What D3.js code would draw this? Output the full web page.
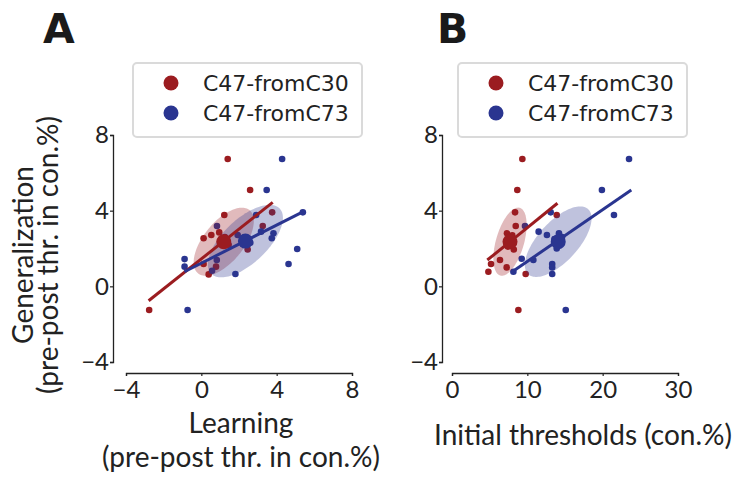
<!DOCTYPE html>
<html>
<head>
<meta charset="utf-8">
<script src="https://cdn.jsdelivr.net/npm/d3@7"></script>
<style>
    body { margin: 0; background: #fff; }
    svg { display: block; }
</style>
</head>
<body>
<div id="chart"></div>
<script>
// group names and colours
var groups = ['C47-fromC30', 'C47-fromC73'];
var colors = ['#9b1c20', '#2a3590'];

// panel A: learning vs generalization
var learnRedX  = [1.40, 2.59, 3.76, 1.22, 3.26, 0.53, 0.12, 1.25, 2.46, 0.12, 0.78, 0.39, -2.77, 1.45, 0.95];
var learnRedY  = [6.73, 5.09, 3.91, 3.77, 3.19, 2.71, 2.54, 2.60, 1.95, 1.18, 1.04, 0.63, -1.25, 2.20, 2.85];
var learnBlueX = [4.29, 3.47, 5.39, 2.91, 3.17, 3.83, 3.74, 1.93, 5.09, 4.63, 1.81, -0.89, -0.89, 0.57, -0.73, 0.83, 0.82, 2.60];
var learnBlueY = [6.73, 5.09, 3.91, 3.77, 2.89, 2.80, 2.54, 2.71, 1.97, 1.18, 0.65, 1.44, 1.04, 0.82, -1.25, 3.19, 1.39, 2.30];
var learnCentX = [1.19, 2.34];
var learnCentY = [2.36, 2.39];
var learnFitX  = [[-2.80, 3.79], [-0.90, 5.39]];
var learnFitY  = [[-0.76, 4.44], [0.77, 3.94]];
var learnEllMajor = [[1.37, 1.67], [1.82, 1.72]];
var learnEllMinor = [[0.82, -0.67], [0.81, -0.84]];

// panel B: initial thresholds vs generalization
var initRedX  = [9.34, 8.67, 8.37, 13.9, 8.46, 7.30, 7.60, 8.00, 7.90, 7.40, 8.20, 6.37, 5.18, 4.83, 7.26, 9.78, 8.81];
var initRedY  = [6.73, 5.09, 3.91, 3.77, 3.19, 2.80, 2.50, 2.70, 2.20, 2.10, 1.95, 1.39, 1.18, 0.77, 1.00, 0.65, -1.25];
var initBlueX = [23.5, 19.9, 21.5, 13.1, 11.5, 12.6, 13.6, 14.3, 14.6, 13.9, 14.2, 10.8, 9.25, 13.3, 13.3, 13.3, 8.15, 15.1, 9.69];
var initBlueY = [6.73, 5.09, 3.77, 3.91, 2.89, 2.71, 2.50, 2.20, 2.60, 2.00, 2.80, 1.39, 1.46, 1.18, 1.00, 0.65, 0.77, -1.25, 3.19];
var initCentX = [7.70, 14.1];
var initCentY = [2.36, 2.36];
var initFitX  = [[4.69, 14.0], [8.0, 23.8]];
var initFitY  = [[1.39, 4.39], [0.77, 5.09]];
var initEllMajor = [[1.29, 1.79], [3.98, 1.72]];
var initEllMinor = [[1.79, -0.20], [1.94, -0.72]];

// tick labels
var yTicks = [-4, 0, 4, 8];
var learnTicks = [-4, 0, 4, 8];
var initTicks = [0, 10, 20, 30];

var svg = d3.select('#chart').append('svg')
            .attr('width', 736)
            .attr('height', 479);

var tickFont = 'Lato, "DejaVu Sans", sans-serif';

function drawPanel(p) {
    var xScale = d3.scaleLinear().domain(p.xDomain).range(p.xRange);
    var yScale = d3.scaleLinear().domain([-4, 8]).range([362, 135]);

    function customAxis(g) {
        g.select('.domain').style('stroke', '#222').style('stroke-width', 1.3);
        g.selectAll('line').style('stroke', '#222').style('stroke-width', 1.2);
        g.selectAll('text').style('fill', '#222')
            .style('font-family', tickFont)
            .style('font-size', '24px');
    }
    var yAxis = d3.axisLeft(yScale).tickValues(yTicks)
                    .tickSize(3).tickPadding(1)
                    .tickFormat(function(d) { return d < 0 ? '\u2212' + Math.abs(d) : d; });
    svg.append('g').attr('transform', 'translate(' + p.yAxisX + ',0)')
        .call(yAxis).call(customAxis);
    var xAxis = d3.axisBottom(xScale).tickValues(p.xTicks)
                    .tickSize(3).tickPadding(5)
                    .tickFormat(function(d) { return d < 0 ? '\u2212' + Math.abs(d) : d; });
    svg.append('g').attr('transform', 'translate(0,373)')
        .call(xAxis).call(customAxis);

    // scatter points
    p.xs.forEach(function(xs, i) {
        svg.append('g').selectAll('circle')
            .data(d3.zip(xs, p.ys[i]))
            .enter()
            .append('circle')
            .attr('cx', function(d) { return xScale(d[0]); })
            .attr('cy', function(d) { return yScale(d[1]); })
            .attr('r', 3.3)
            .style('fill', colors[i]);
    });

    // ellipses (centre + two semi-axis vectors, in data units)
    var ellLine = d3.line().curve(d3.curveLinearClosed);
    p.centX.forEach(function(cx, i) {
        var cy = p.centY[i], a = p.major[i], b = p.minor[i];
        var pts = d3.range(0, 2 * Math.PI, Math.PI / 60).map(function(t) {
            return [xScale(cx + a[0] * Math.cos(t) + b[0] * Math.sin(t)),
                    yScale(cy + a[1] * Math.cos(t) + b[1] * Math.sin(t))];
        });
        svg.append('path').attr('d', ellLine(pts))
            .style('fill', colors[i])
            .style('fill-opacity', 0.3)
            .style('stroke', 'none');
    });

    // regression lines
    p.fitX.forEach(function(fx, i) {
        svg.append('line')
            .attr('x1', xScale(fx[0])).attr('y1', yScale(p.fitY[i][0]))
            .attr('x2', xScale(fx[1])).attr('y2', yScale(p.fitY[i][1]))
            .style('stroke', colors[i])
            .style('stroke-width', 3);
    });

    // centroids
    svg.append('g').selectAll('circle')
        .data(p.centX)
        .enter()
        .append('circle')
        .attr('cx', function(d) { return xScale(d); })
        .attr('cy', function(d, i) { return yScale(p.centY[i]); })
        .attr('r', 7.5)
        .style('fill', function(d, i) { return colors[i]; });

    // legend
    var legend = svg.append('g').attr('transform', 'translate(' + p.legendX + ',63)');
    legend.append('rect')
        .attr('width', 229).attr('height', 74)
        .attr('rx', 4)
        .style('fill', '#fff').style('fill-opacity', 0.8)
        .style('stroke', '#dadada').style('stroke-width', 2);
    groups.forEach(function(g, i) {
        legend.append('circle')
            .attr('cx', 38).attr('cy', 20 + i * 30)
            .attr('r', 7.5)
            .style('fill', colors[i]);
        legend.append('text').text(g)
            .attr('x', 70).attr('y', 28 + i * 30)
            .style('font-family', '"DejaVu Sans", sans-serif')
            .style('font-size', '22px')
            .style('fill', '#222');
    });

    // panel letter
    svg.append('text').text(p.letter)
        .attr('x', p.letterX).attr('y', 43)
        .style('font-family', '"DejaVu Sans", sans-serif')
        .style('font-weight', 700)
        .style('font-size', '41px')
        .style('fill', '#1a1a1a');
}

drawPanel({
    letter: 'A', letterX: 43, legendX: 133,
    xDomain: [-4, 8], xRange: [126, 352], xTicks: learnTicks, yAxisX: 113,
    xs: [learnRedX, learnBlueX], ys: [learnRedY, learnBlueY],
    centX: learnCentX, centY: learnCentY,
    fitX: learnFitX, fitY: learnFitY,
    major: learnEllMajor, minor: learnEllMinor
});
drawPanel({
    letter: 'B', letterX: 437, legendX: 458,
    xDomain: [0, 30], xRange: [452, 678], xTicks: initTicks, yAxisX: 442,
    xs: [initRedX, initBlueX], ys: [initRedY, initBlueY],
    centX: initCentX, centY: initCentY,
    fitX: initFitX, fitY: initFitY,
    major: initEllMajor, minor: initEllMinor
});

// axis labels
function labelStyling(t) {
    t.style('font-family', tickFont)
     .style('font-size', '28px')
     .style('fill', '#222')
     .attr('text-anchor', 'middle');
}
svg.append('text').text('Generalization').call(labelStyling)
    .attr('transform', 'translate(33,255) rotate(-90)');
svg.append('text').text('(pre-post thr. in con.%)').call(labelStyling)
    .attr('transform', 'translate(58,255) rotate(-90)');
svg.append('text').text('Learning').call(labelStyling)
    .attr('x', 241).attr('y', 433);
svg.append('text').text('(pre-post thr. in con.%)').call(labelStyling)
    .attr('x', 241).attr('y', 467);
svg.append('text').text('Initial thresholds (con.%)').call(labelStyling)
    .attr('x', 583).attr('y', 445);
</script>
</body>
</html>
